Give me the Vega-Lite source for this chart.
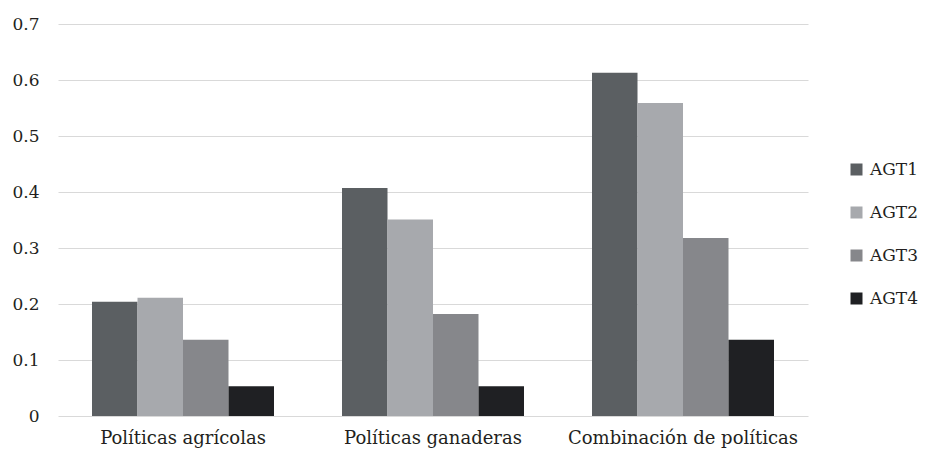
{
  "$schema": "https://vega.github.io/schema/vega-lite/v6.json",
  "autosize": {"type": "none"},
  "width": 750,
  "height": 392,
  "padding": {"left": 58, "top": 24, "right": 119, "bottom": 41},
  "background": "#ffffff",
  "data": {
    "values": [
      {"politica": "Políticas agrícolas", "agente": "AGT1", "valor": 0.204},
      {"politica": "Políticas agrícolas", "agente": "AGT2", "valor": 0.211},
      {"politica": "Políticas agrícolas", "agente": "AGT3", "valor": 0.136},
      {"politica": "Políticas agrícolas", "agente": "AGT4", "valor": 0.053},
      {"politica": "Políticas ganaderas", "agente": "AGT1", "valor": 0.407},
      {"politica": "Políticas ganaderas", "agente": "AGT2", "valor": 0.351},
      {"politica": "Políticas ganaderas", "agente": "AGT3", "valor": 0.182},
      {"politica": "Políticas ganaderas", "agente": "AGT4", "valor": 0.053},
      {"politica": "Combinación de políticas", "agente": "AGT1", "valor": 0.613},
      {"politica": "Combinación de políticas", "agente": "AGT2", "valor": 0.559},
      {"politica": "Combinación de políticas", "agente": "AGT3", "valor": 0.318},
      {"politica": "Combinación de políticas", "agente": "AGT4", "valor": 0.136}
    ]
  },
  "mark": {"type": "bar"},
  "encoding": {
    "x": {
      "field": "politica",
      "type": "nominal",
      "sort": ["Políticas agrícolas", "Políticas ganaderas", "Combinación de políticas"],
      "scale": {"paddingInner": 0.272, "paddingOuter": 0.136},
      "axis": {
        "title": null,
        "labelAngle": 0,
        "domain": false,
        "ticks": false,
        "labelPadding": 13,
        "labelFontSize": 18,
        "labelLimit": 0
      }
    },
    "xOffset": {
      "field": "agente",
      "type": "nominal",
      "scale": {"paddingInner": 0, "paddingOuter": 0}
    },
    "y": {
      "field": "valor",
      "type": "quantitative",
      "scale": {"domain": [0, 0.7], "nice": false},
      "axis": {
        "title": null,
        "values": [0, 0.1, 0.2, 0.3, 0.4, 0.5, 0.6, 0.7],
        "format": "~g",
        "domain": false,
        "ticks": false,
        "labelPadding": 19,
        "labelFontSize": 17,
        "gridColor": "#d9d9d9",
        "gridWidth": 1
      }
    },
    "color": {
      "field": "agente",
      "type": "nominal",
      "scale": {
        "domain": ["AGT1", "AGT2", "AGT3", "AGT4"],
        "range": ["#5b5f62", "#a7a9ad", "#86878b", "#1f2023"]
      },
      "legend": {
        "title": null,
        "orient": "none",
        "legendX": 790,
        "legendY": 137,
        "symbolType": "square",
        "symbolSize": 144,
        "symbolStrokeWidth": 0,
        "symbolOpacity": 1,
        "labelFontSize": 17,
        "labelOffset": 5,
        "rowPadding": 25
      }
    }
  },
  "config": {
    "font": "DejaVu Serif",
    "view": {"stroke": null},
    "axis": {"labelColor": "#231f20", "labelFont": "DejaVu Serif"},
    "legend": {"labelColor": "#231f20", "labelFont": "DejaVu Serif"}
  }
}
